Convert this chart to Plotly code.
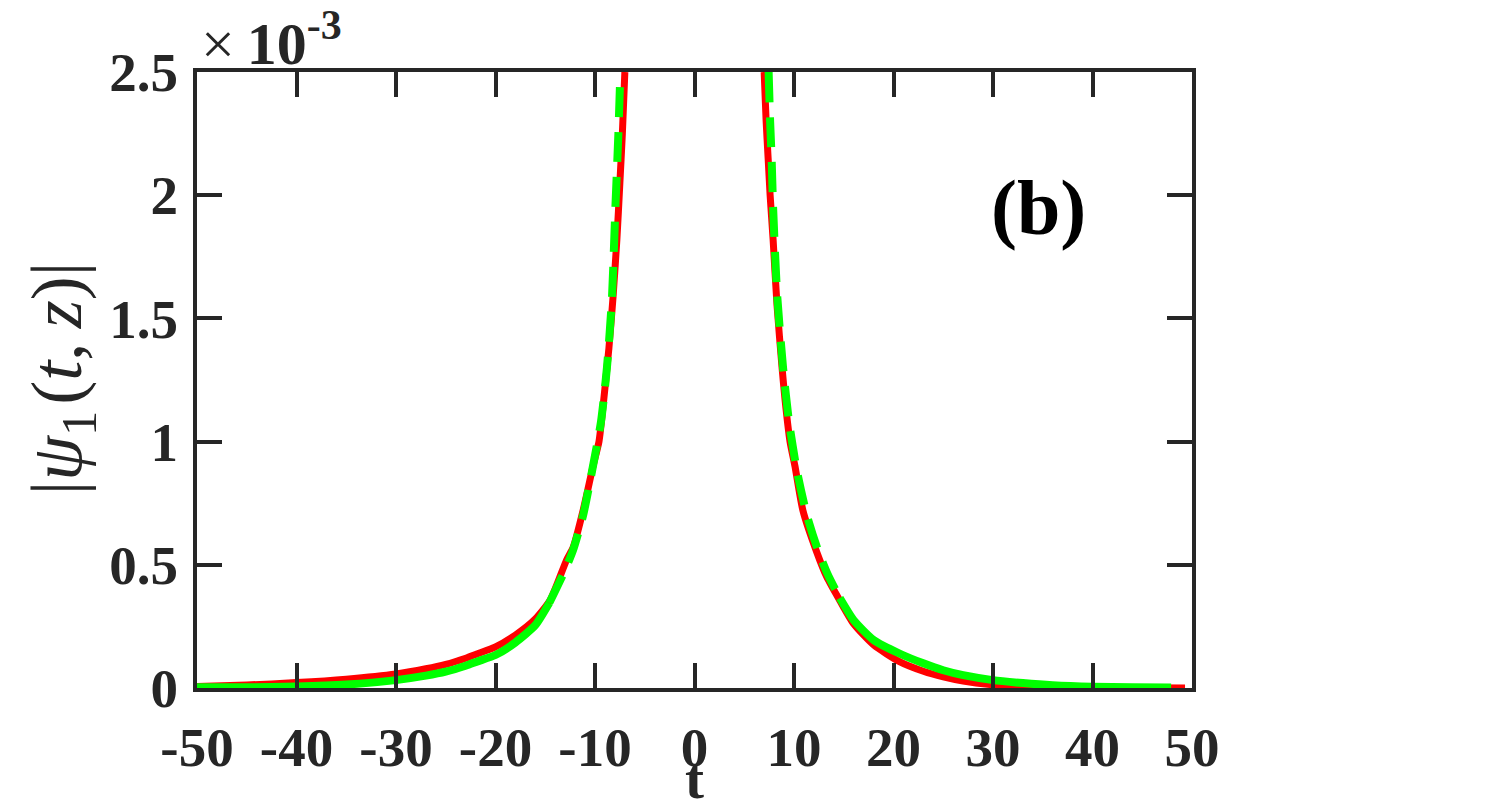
import plotly.graph_objects as go

# ---- data (values in units of 1e-3) ----
red_t = [-50.0, -45.0, -40.0, -35.0, -30.0, -27.0, -25.0, -23.0, -21.8, -20.0, -18.0, -16.0,
         -14.5, -12.85, -12.2, -11.2, -10.2, -9.6, -9.3, -8.6, -8.2, -7.8, -7.5, -7.25, -7.0,
         None,
         7.0, 7.2, 7.4, 7.6, 7.9, 8.3, 8.8, 9.1, 9.6, 10.1, 10.9, 12.3, 13.3, 14.6, 16.0, 18.0,
         20.6, 23.0, 25.0, 27.0, 30.0, 33.0, 36.0, 40.0, 45.0, 49.3]
red_v = [0.006, 0.012, 0.022, 0.036, 0.057, 0.078, 0.096, 0.121, 0.139, 0.167, 0.215, 0.28,
         0.357, 0.52, 0.57, 0.72, 0.90, 1.0, 1.10, 1.38, 1.58, 1.82, 2.05, 2.25, 2.5,
         None,
         2.5, 2.3, 2.15, 2.0, 1.82, 1.55, 1.3, 1.17, 1.0, 0.90, 0.72, 0.55, 0.45, 0.355, 0.26, 0.175,
         0.107, 0.068, 0.045, 0.028, 0.013, 0.007, 0.004, 0.002, 0.001, 0.0]

green_t_left = [-50.0, -45.0, -40.0, -35.0, -30.0, -27.0, -25.0, -23.0, -21.8, -20.0, -18.0, -16.0,
                -14.6, -13.0, -12.2, -11.2, -10.3, -9.4, -8.8, -8.3, -7.95, -7.65, -7.45]
green_v_left = [0.003, 0.003, 0.006, 0.014, 0.032, 0.05, 0.066, 0.09, 0.108, 0.134, 0.185, 0.255,
                0.345, 0.48, 0.56, 0.70, 0.88, 1.08, 1.30, 1.58, 1.95, 2.25, 2.5]
green_t_right = [7.45, 7.6, 7.75, 7.9, 8.3, 8.9, 9.5, 10.3, 11.3, 12.4, 13.4, 14.6, 16.0, 18.0,
                 20.6, 23.0, 25.0, 27.0, 30.0, 33.0, 36.0, 40.0, 44.0, 47.9]
green_v_right = [2.5, 2.3, 2.15, 1.95, 1.6, 1.3, 1.08, 0.88, 0.70, 0.56, 0.46, 0.365, 0.275, 0.195,
                 0.14, 0.10, 0.072, 0.052, 0.032, 0.02, 0.011, 0.005, 0.003, 0.002]

x_ticks = [-50, -40, -30, -20, -10, 0, 10, 20, 30, 40, 50]
y_ticks = [0, 0.5, 1, 1.5, 2, 2.5]
y_ticktext = ["0", "0.5", "1", "1.5", "2", "2.5"]

RED = "#FF0000"
GREEN = "#00FF00"
AX = "#262626"
FONT = "Liberation Serif"

fig = go.Figure()
fig.add_trace(go.Scatter(x=red_t, y=red_v, mode="lines", connectgaps=False,
                         line=dict(color=RED, width=7, shape="spline", smoothing=0.6),
                         showlegend=False, hoverinfo="skip"))

# green: dashed near the peaks, visually continuous in the tails
SPLIT = 14.6
def seg(ts, vs, cond):
    pts = [(t, v) for t, v in zip(ts, vs) if cond(t)]
    return [p[0] for p in pts], [p[1] for p in pts]

for ts, vs in [(green_t_left, green_v_left), (green_t_right, green_v_right)]:
    tt, vv = seg(ts, vs, lambda t: abs(t) >= SPLIT)
    fig.add_trace(go.Scatter(x=tt, y=vv, mode="lines",
                             line=dict(color=GREEN, width=8, shape="spline", smoothing=0.6),
                             showlegend=False, hoverinfo="skip"))
    tt, vv = seg(ts, vs, lambda t: abs(t) <= SPLIT)
    fig.add_trace(go.Scatter(x=tt, y=vv, mode="lines",
                             line=dict(color=GREEN, width=8, dash="30px,15px", shape="spline", smoothing=0.6),
                             showlegend=False, hoverinfo="skip"))

tickfont = dict(family=FONT, size=55, color=AX, weight="bold")
fig.update_xaxes(range=[-50, 50], tickvals=x_ticks, ticktext=[str(v) for v in x_ticks],
                 ticks="inside", ticklen=25, tickwidth=4, tickcolor=AX,
                 showline=True, linewidth=4, linecolor=AX, mirror="ticks",
                 showgrid=False, zeroline=False, tickfont=tickfont, ticklabelstandoff=8)
fig.update_yaxes(range=[0, 2.5], tickvals=y_ticks, ticktext=y_ticktext,
                 ticks="inside", ticklen=25, tickwidth=4, tickcolor=AX,
                 showline=True, linewidth=4, linecolor=AX, mirror="ticks",
                 showgrid=False, zeroline=False, tickfont=tickfont, ticklabelstandoff=4)

# axis titles and labels
fig.add_annotation(x=0, y=-0.1867, xref="x", yref="paper", text="<b>t</b>", showarrow=False,
                   font=dict(family=FONT, size=57, color=AX), xanchor="center", yanchor="bottom",
                   yshift=-9)
fig.add_annotation(x=-0.1357, y=0.503, xref="paper", yref="paper",
                   text="|<i>ψ</i><sub>1</sub>\u200a(<i>t</i>,\u2009<i>z</i>)|",
                   textangle=-90, showarrow=False,
                   font=dict(family=FONT, size=72, color=AX), xanchor="center", yanchor="middle")
fig.add_annotation(x=0.0, y=1.1169, xref="paper", yref="paper",
                   text="×\u2009<b>10</b><sup><b>-3</b></sup>", showarrow=False,
                   font=dict(family=FONT, size=60, color=AX), xanchor="left", yanchor="top",
                   xshift=2)
fig.add_annotation(x=34.6, y=1.95, xref="x", yref="y", text="<b>(b)</b>", showarrow=False,
                   font=dict(family=FONT, size=78, color="#000000"), xanchor="center", yanchor="middle")

fig.update_layout(width=1511, height=803, margin=dict(l=197, r=319, t=72, b=115),
                  paper_bgcolor="white", plot_bgcolor="white")
fig.write_html("out.html")
